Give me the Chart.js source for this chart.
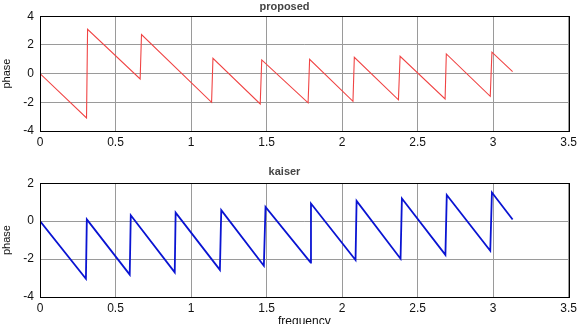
<!DOCTYPE html>
<html>
<head>
<meta charset="utf-8">
<script src="https://cdn.jsdelivr.net/npm/chart.js@4/dist/chart.umd.min.js"></script>
<style>
  html, body { margin: 0; padding: 0; background: #fff; overflow: hidden; }
  .wrap { position: absolute; left: 0; width: 581px; height: 162px; }
  #topWrap { top: 0; }
  #botWrap { top: 162px; }
</style>
</head>
<body>
<div class="wrap" id="topWrap"><canvas id="chTop" width="581" height="162"></canvas></div>
<div class="wrap" id="botWrap"><canvas id="chBot" width="581" height="162"></canvas></div>
<script>
// ── data (frequency / phase) ──
const propFreq  = [0, 0.308, 0.315, 0.663, 0.672, 1.136, 1.145, 1.458, 1.468, 1.775, 1.785, 2.072, 2.081, 2.373, 2.384, 2.682, 2.690, 2.981, 2.992, 3.129];
const propPhase = [0, -3.09, 3.09, -0.37, 2.72, -2.00, 1.07, -2.11, 0.95, -2.04, 1.00, -1.93, 1.14, -1.83, 1.21, -1.77, 1.37, -1.58, 1.49, 0.14];

const kaisFreq  = [0, 0.304, 0.310, 0.594, 0.601, 0.892, 0.898, 1.191, 1.200, 1.482, 1.493, 1.792, 1.794, 2.089, 2.096, 2.387, 2.396, 2.684, 2.693, 2.981, 2.992, 3.129];
const kaisPhase = [0, -3.04, 0.09, -2.82, 0.31, -2.70, 0.45, -2.57, 0.58, -2.35, 0.75, -2.19, 0.93, -2.05, 1.07, -1.98, 1.19, -1.78, 1.38, -1.56, 1.51, 0.09];

const xTicks = [0, 0.5, 1, 1.5, 2, 2.5, 3, 3.5];
const topYTicks = [-4, -2, 0, 2, 4];
const botYTicks = [-4, -2, 0, 2];

const FONT = { family: 'Liberation Sans, Arial, sans-serif', size: 12 };
const GRID = '#9a9a9a';

function pts(xs, ys) { return xs.map((x, i) => ({ x: x, y: ys[i] })); }

function mkPanel(id, opt) {
  return new Chart(document.getElementById(id).getContext('2d'), {
    type: 'scatter',
    data: {
      datasets: [{
        data: pts(opt.xs, opt.ys),
        showLine: true, borderColor: opt.color, borderWidth: opt.lw,
        pointRadius: 0, tension: 0, fill: false
      }]
    },
    options: {
      responsive: false, animation: false, events: [],
      layout: { padding: { top: opt.padTop, right: 12, left: 0, bottom: 0 } },
      plugins: {
        legend: { display: false },
        tooltip: { enabled: false },
        title: {
          display: true, text: opt.title, color: '#444',
          font: { family: FONT.family, size: 11, weight: 'bold' },
          padding: { top: 0, bottom: opt.titleGap }
        }
      },
      scales: {
        x: {
          type: 'linear', min: 0, max: 3.5,
          afterBuildTicks: ax => { ax.ticks = xTicks.map(v => ({ value: v })); },
          afterFit: ax => { ax.height = opt.xH; },
          ticks: { color: '#111', font: FONT, padding: 4, maxRotation: 0, callback: v => String(v) },
          grid: { color: GRID, lineWidth: 1, drawTicks: false },
          border: { color: '#000', width: 1 },
          title: { display: opt.xTitle, text: 'frequency', color: '#111', font: FONT, padding: { top: 0, bottom: -5 } }
        },
        y: {
          type: 'linear', min: opt.ymin, max: opt.ymax,
          afterBuildTicks: ax => { ax.ticks = opt.yTicks.map(v => ({ value: v })); },
          afterFit: ax => { ax.width = 40; },
          ticks: { color: '#111', font: FONT, padding: 6, callback: v => String(v) },
          grid: { color: GRID, lineWidth: 1, drawTicks: false },
          border: { color: '#000', width: 1 },
          title: { display: true, text: 'phase', color: '#111', font: { family: FONT.family, size: 11 }, padding: { top: 0, bottom: 2 } }
        }
      }
    },
    plugins: [{
      id: 'frame',
      afterDraw(c) {
        const a = c.chartArea, ctx = c.ctx;
        ctx.save();
        ctx.strokeStyle = '#000'; ctx.lineWidth = 1;
        ctx.strokeRect(Math.round(a.left) + 0.5, Math.round(a.top) + 0.5, Math.round(a.right - a.left), Math.round(a.bottom - a.top));
        ctx.restore();
      }
    }]
  });
}

mkPanel('chTop', {
  xs: propFreq, ys: propPhase, color: '#f04444', lw: 1.1, title: 'proposed',
  ymin: -4, ymax: 4, yTicks: topYTicks, padTop: 0, titleGap: 3, xH: 31, xTitle: false
});

mkPanel('chBot', {
  xs: kaisFreq, ys: kaisPhase, color: '#0a14d2', lw: 1.8, title: 'kaiser',
  ymin: -4, ymax: 2, yTicks: botYTicks, padTop: 3, titleGap: 5, xH: 27, xTitle: true
});
</script>
</body>
</html>
